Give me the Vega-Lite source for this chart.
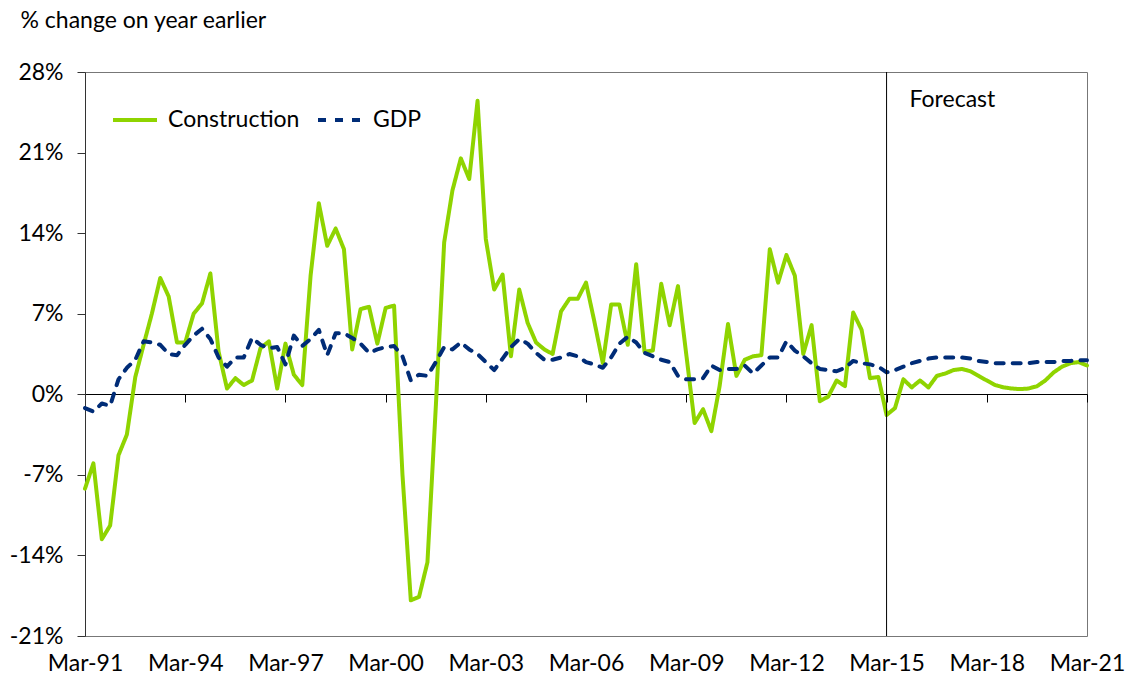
{
  "$schema": "https://vega.github.io/schema/vega-lite/v6.json",
  "width": 1002,
  "height": 564,
  "autosize": "none",
  "padding": {"left": 85, "top": 72, "right": 44, "bottom": 44},
  "background": "white",
  "config": {
    "font": "Lato",
    "view": {"stroke": "#777777", "strokeWidth": 1},
    "axis": {"labelFont": "Lato", "labelFontSize": 23, "labelColor": "#000000", "grid": false}
  },
  "data": {"values": [
    {"date":"1991-03-01","Construction":-8.2,"GDP":-1.2},
    {"date":"1991-06-01","Construction":-6.0,"GDP":-1.5},
    {"date":"1991-09-01","Construction":-12.6,"GDP":-0.8},
    {"date":"1991-12-01","Construction":-11.4,"GDP":-1.0},
    {"date":"1992-03-01","Construction":-5.3,"GDP":1.3},
    {"date":"1992-06-01","Construction":-3.5,"GDP":2.3},
    {"date":"1992-09-01","Construction":1.5,"GDP":3.0},
    {"date":"1992-12-01","Construction":4.3,"GDP":4.6},
    {"date":"1993-03-01","Construction":7.0,"GDP":4.5},
    {"date":"1993-06-01","Construction":10.1,"GDP":4.3},
    {"date":"1993-09-01","Construction":8.5,"GDP":3.5},
    {"date":"1993-12-01","Construction":4.5,"GDP":3.4},
    {"date":"1994-03-01","Construction":4.5,"GDP":4.3},
    {"date":"1994-06-01","Construction":7.0,"GDP":5.1},
    {"date":"1994-09-01","Construction":7.9,"GDP":5.7},
    {"date":"1994-12-01","Construction":10.5,"GDP":4.8},
    {"date":"1995-03-01","Construction":3.7,"GDP":3.2},
    {"date":"1995-06-01","Construction":0.5,"GDP":2.4},
    {"date":"1995-09-01","Construction":1.4,"GDP":3.2},
    {"date":"1995-12-01","Construction":0.8,"GDP":3.2},
    {"date":"1996-03-01","Construction":1.2,"GDP":4.9},
    {"date":"1996-06-01","Construction":4.0,"GDP":4.3},
    {"date":"1996-09-01","Construction":4.6,"GDP":4.0},
    {"date":"1996-12-01","Construction":0.5,"GDP":4.1},
    {"date":"1997-03-01","Construction":4.4,"GDP":2.6},
    {"date":"1997-06-01","Construction":1.7,"GDP":5.1},
    {"date":"1997-09-01","Construction":0.8,"GDP":4.2},
    {"date":"1997-12-01","Construction":10.3,"GDP":4.8},
    {"date":"1998-03-01","Construction":16.6,"GDP":5.6},
    {"date":"1998-06-01","Construction":12.9,"GDP":3.4},
    {"date":"1998-09-01","Construction":14.4,"GDP":5.3},
    {"date":"1998-12-01","Construction":12.6,"GDP":5.3},
    {"date":"1999-03-01","Construction":3.9,"GDP":4.9},
    {"date":"1999-06-01","Construction":7.4,"GDP":4.4},
    {"date":"1999-09-01","Construction":7.6,"GDP":3.6},
    {"date":"1999-12-01","Construction":4.4,"GDP":3.9},
    {"date":"2000-03-01","Construction":7.5,"GDP":4.1},
    {"date":"2000-06-01","Construction":7.7,"GDP":4.2},
    {"date":"2000-09-01","Construction":-7.0,"GDP":3.3},
    {"date":"2000-12-01","Construction":-17.9,"GDP":1.2},
    {"date":"2001-03-01","Construction":-17.6,"GDP":1.7},
    {"date":"2001-06-01","Construction":-14.6,"GDP":1.6},
    {"date":"2001-09-01","Construction":-1.0,"GDP":2.8},
    {"date":"2001-12-01","Construction":13.2,"GDP":4.1},
    {"date":"2002-03-01","Construction":17.7,"GDP":3.9},
    {"date":"2002-06-01","Construction":20.5,"GDP":4.5},
    {"date":"2002-09-01","Construction":18.7,"GDP":3.9},
    {"date":"2002-12-01","Construction":25.5,"GDP":3.5},
    {"date":"2003-03-01","Construction":13.5,"GDP":2.8},
    {"date":"2003-06-01","Construction":9.1,"GDP":2.1},
    {"date":"2003-09-01","Construction":10.4,"GDP":3.1},
    {"date":"2003-12-01","Construction":3.3,"GDP":4.1},
    {"date":"2004-03-01","Construction":9.1,"GDP":4.8},
    {"date":"2004-06-01","Construction":6.2,"GDP":4.4},
    {"date":"2004-09-01","Construction":4.5,"GDP":3.6},
    {"date":"2004-12-01","Construction":3.9,"GDP":3.0},
    {"date":"2005-03-01","Construction":3.5,"GDP":3.0},
    {"date":"2005-06-01","Construction":7.2,"GDP":3.2},
    {"date":"2005-09-01","Construction":8.3,"GDP":3.5},
    {"date":"2005-12-01","Construction":8.3,"GDP":3.3},
    {"date":"2006-03-01","Construction":9.7,"GDP":2.8},
    {"date":"2006-06-01","Construction":6.3,"GDP":2.6},
    {"date":"2006-09-01","Construction":2.7,"GDP":2.3},
    {"date":"2006-12-01","Construction":7.8,"GDP":3.2},
    {"date":"2007-03-01","Construction":7.8,"GDP":4.4},
    {"date":"2007-06-01","Construction":4.3,"GDP":5.0},
    {"date":"2007-09-01","Construction":11.3,"GDP":4.5},
    {"date":"2007-12-01","Construction":3.7,"GDP":3.6},
    {"date":"2008-03-01","Construction":3.8,"GDP":3.3},
    {"date":"2008-06-01","Construction":9.6,"GDP":3.0},
    {"date":"2008-09-01","Construction":6.0,"GDP":2.8},
    {"date":"2008-12-01","Construction":9.4,"GDP":1.6},
    {"date":"2009-03-01","Construction":3.5,"GDP":1.3},
    {"date":"2009-06-01","Construction":-2.5,"GDP":1.3},
    {"date":"2009-09-01","Construction":-1.3,"GDP":1.4},
    {"date":"2009-12-01","Construction":-3.2,"GDP":2.5},
    {"date":"2010-03-01","Construction":0.7,"GDP":2.1},
    {"date":"2010-06-01","Construction":6.1,"GDP":2.2},
    {"date":"2010-09-01","Construction":1.6,"GDP":2.2},
    {"date":"2010-12-01","Construction":3.0,"GDP":2.5},
    {"date":"2011-03-01","Construction":3.3,"GDP":1.8},
    {"date":"2011-06-01","Construction":3.4,"GDP":2.5},
    {"date":"2011-09-01","Construction":12.6,"GDP":3.2},
    {"date":"2011-12-01","Construction":9.7,"GDP":3.2},
    {"date":"2012-03-01","Construction":12.1,"GDP":4.6},
    {"date":"2012-06-01","Construction":10.3,"GDP":3.8},
    {"date":"2012-09-01","Construction":3.5,"GDP":3.3},
    {"date":"2012-12-01","Construction":6.0,"GDP":2.7},
    {"date":"2013-03-01","Construction":-0.6,"GDP":2.2},
    {"date":"2013-06-01","Construction":-0.2,"GDP":2.1},
    {"date":"2013-09-01","Construction":1.2,"GDP":2.0},
    {"date":"2013-12-01","Construction":0.7,"GDP":2.3},
    {"date":"2014-03-01","Construction":7.1,"GDP":2.9},
    {"date":"2014-06-01","Construction":5.6,"GDP":2.7},
    {"date":"2014-09-01","Construction":1.4,"GDP":2.6},
    {"date":"2014-12-01","Construction":1.5,"GDP":2.4},
    {"date":"2015-03-01","Construction":-1.8,"GDP":1.9},
    {"date":"2015-06-01","Construction":-1.2,"GDP":2.1},
    {"date":"2015-09-01","Construction":1.3,"GDP":2.4},
    {"date":"2015-12-01","Construction":0.6,"GDP":2.7},
    {"date":"2016-03-01","Construction":1.2,"GDP":2.9},
    {"date":"2016-06-01","Construction":0.6,"GDP":3.1},
    {"date":"2016-09-01","Construction":1.6,"GDP":3.2},
    {"date":"2016-12-01","Construction":1.8,"GDP":3.2},
    {"date":"2017-03-01","Construction":2.1,"GDP":3.2},
    {"date":"2017-06-01","Construction":2.2,"GDP":3.2},
    {"date":"2017-09-01","Construction":2.0,"GDP":3.1},
    {"date":"2017-12-01","Construction":1.6,"GDP":2.9},
    {"date":"2018-03-01","Construction":1.2,"GDP":2.8},
    {"date":"2018-06-01","Construction":0.8,"GDP":2.7},
    {"date":"2018-09-01","Construction":0.6,"GDP":2.7},
    {"date":"2018-12-01","Construction":0.5,"GDP":2.7},
    {"date":"2019-03-01","Construction":0.45,"GDP":2.7},
    {"date":"2019-06-01","Construction":0.5,"GDP":2.7},
    {"date":"2019-09-01","Construction":0.7,"GDP":2.8},
    {"date":"2019-12-01","Construction":1.2,"GDP":2.8},
    {"date":"2020-03-01","Construction":1.9,"GDP":2.8},
    {"date":"2020-06-01","Construction":2.4,"GDP":2.9},
    {"date":"2020-09-01","Construction":2.7,"GDP":2.9},
    {"date":"2020-12-01","Construction":2.8,"GDP":2.95},
    {"date":"2021-03-01","Construction":2.5,"GDP":2.95}
  ]},
  "transform": [{"fold": ["Construction", "GDP"], "as": ["series", "value"]}],
  "layer": [
    {
      "mark": {"type": "line", "strokeWidth": 4, "strokeCap": "round", "strokeJoin": "round"},
      "encoding": {
        "x": {
          "field": "date", "type": "temporal",
          "scale": {"type": "utc", "domain": [{"year": 1991, "month": 3, "date": 1, "utc": true}, {"year": 2021, "month": 3, "date": 1, "utc": true}]},
          "axis": {
            "orient": "bottom", "title": null, "format": "%b-%y", "domain": false, "ticks": false,
            "labelPadding": 16, "labelOverlap": false, "labelFlush": false, "labelBound": false,
            "values": [
              {"year": 1991, "month": 3, "date": 1, "utc": true},
              {"year": 1994, "month": 3, "date": 1, "utc": true},
              {"year": 1997, "month": 3, "date": 1, "utc": true},
              {"year": 2000, "month": 3, "date": 1, "utc": true},
              {"year": 2003, "month": 3, "date": 1, "utc": true},
              {"year": 2006, "month": 3, "date": 1, "utc": true},
              {"year": 2009, "month": 3, "date": 1, "utc": true},
              {"year": 2012, "month": 3, "date": 1, "utc": true},
              {"year": 2015, "month": 3, "date": 1, "utc": true},
              {"year": 2018, "month": 3, "date": 1, "utc": true},
              {"year": 2021, "month": 3, "date": 1, "utc": true}
            ]
          }
        },
        "y": {
          "field": "value", "type": "quantitative",
          "scale": {"domain": [-21, 28], "nice": false, "zero": false},
          "axis": {
            "values": [-21, -14, -7, 0, 7, 14, 21, 28],
            "labelExpr": "datum.value + '%'",
            "tickSize": 8, "tickColor": "#333333", "domainColor": "#333333",
            "labelPadding": 14,
            "title": "% change on year earlier", "titleAngle": 0, "titleX": -65, "titleY": -52,
            "titleAlign": "left", "titleBaseline": "middle", "titleFontSize": 23,
            "titleFontWeight": "normal", "titleFont": "Lato", "titleColor": "#000000"
          }
        },
        "color": {
          "field": "series", "type": "nominal",
          "scale": {"domain": ["Construction", "GDP"], "range": ["#8FD400", "#002C77"]},
          "legend": {
            "orient": "none", "legendX": 26, "legendY": 24, "direction": "horizontal", "title": null,
            "labelFontSize": 23, "labelFont": "Lato", "labelColor": "#000000",
            "symbolType": "stroke", "symbolSize": 1936, "symbolStrokeWidth": 4,
            "labelOffset": 9, "columnPadding": 10, "padding": 0
          }
        },
        "strokeDash": {
          "field": "series", "type": "nominal",
          "scale": {"domain": ["Construction", "GDP"], "range": [[1, 0], [8, 9]]}
        }
      }
    },
    {
      "data": {"values": [{}]},
      "mark": {"type": "rule", "color": "#000000", "strokeWidth": 1},
      "encoding": {
        "x": {
          "datum": {"year": 2015, "month": 3, "date": 1, "utc": true}, "type": "temporal",
          "axis": {
            "orient": "bottom", "offset": -242, "title": null, "labels": false,
            "ticks": true, "tickSize": 8, "tickColor": "#000000",
            "domain": true, "domainColor": "#000000", "domainWidth": 1,
            "values": [
              {"year": 1991, "month": 3, "date": 1, "utc": true},
              {"year": 1994, "month": 3, "date": 1, "utc": true},
              {"year": 1997, "month": 3, "date": 1, "utc": true},
              {"year": 2000, "month": 3, "date": 1, "utc": true},
              {"year": 2003, "month": 3, "date": 1, "utc": true},
              {"year": 2006, "month": 3, "date": 1, "utc": true},
              {"year": 2009, "month": 3, "date": 1, "utc": true},
              {"year": 2012, "month": 3, "date": 1, "utc": true},
              {"year": 2015, "month": 3, "date": 1, "utc": true},
              {"year": 2018, "month": 3, "date": 1, "utc": true},
              {"year": 2021, "month": 3, "date": 1, "utc": true}
            ]
          }
        }
      }
    },
    {
      "data": {"values": [{}]},
      "mark": {"type": "text", "text": "Forecast", "align": "left", "baseline": "middle", "dx": 23, "dy": 28, "fontSize": 23, "font": "Lato", "color": "#000000"},
      "encoding": {
        "x": {"datum": {"year": 2015, "month": 3, "date": 1, "utc": true}, "type": "temporal", "axis": null},
        "y": {"datum": 28, "type": "quantitative"}
      }
    }
  ],
  "resolve": {"axis": {"x": "independent"}}
}
